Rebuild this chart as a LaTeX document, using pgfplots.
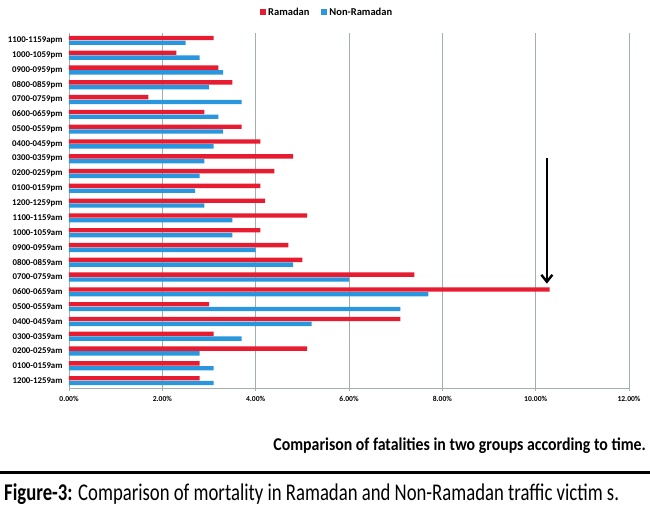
\documentclass[border=0pt]{standalone}
\usepackage{pgfplots}
\pgfplotsset{compat=1.18}
\usepackage{fontspec}
\setmainfont{Carlito}
\newfontfamily\condfont[FakeStretch=0.78]{Carlito}
\newfontfamily\condbold[FakeStretch=0.88]{Carlito}
\usetikzlibrary{arrows.meta}
\definecolor{ramred}{RGB}{232,28,48}
\definecolor{nonblue}{RGB}{42,150,222}
\definecolor{gridc}{RGB}{160,176,170}
\pgfplotstableread{
idx ram non
0 2.8 3.1
1 2.8 3.1
2 5.1 2.8
3 3.1 3.7
4 7.1 5.2
5 3.0 7.1
6 10.3 7.7
7 7.4 6.0
8 5.0 4.8
9 4.7 4.0
10 4.1 3.5
11 5.1 3.5
12 4.2 2.9
13 4.1 2.7
14 4.4 2.8
15 4.8 2.9
16 4.1 3.1
17 3.7 3.3
18 2.9 3.2
19 1.7 3.7
20 3.5 3.0
21 3.2 3.3
22 2.3 2.8
23 3.1 2.5
}\mydata
\begin{document}
\begin{tikzpicture}
\useasboundingbox (-69pt,-124pt) rectangle (581pt,388pt);
\begin{axis}[
  at={(0,0)}, anchor=south west,
  scale only axis, width=560pt, height=355pt,
  xmin=0, xmax=12, ymin=-0.5, ymax=23.5,
  axis lines=left,
  axis line style={-, draw=gridc, line width=0.8pt},
  xtick={0,2,...,12},
  xmajorgrids, grid style={draw=gridc, line width=0.9pt},
  xticklabel={\pgfmathprintnumber[fixed,fixed zerofill,precision=2]{\tick}\%},
  /pgf/number format/assume math mode=true,
  xticklabel style={font=\bfseries\fontsize{7.6}{9}\selectfont, yshift=-2pt},
  ytick={0,...,23},
  yticklabels={1200-1259am,0100-0159am,0200-0259am,0300-0359am,0400-0459am,0500-0559am,0600-0659am,0700-0759am,0800-0859am,0900-0959am,1000-1059am,1100-1159am,1200-1259pm,0100-0159pm,0200-0259pm,0300-0359pm,0400-0459pm,0500-0559pm,0600-0659pm,0700-0759pm,0800-0859pm,0900-0959pm,1000-1059pm,1100-1159apm},
  yticklabel style={font=\bfseries\fontsize{8.8}{10}\selectfont},
  minor ytick={-0.5,0.5,...,23.5},
  ytick style={draw=none},
  minor tick style={draw=gridc, line width=0.8pt},
  xtick style={draw=gridc, line width=0.8pt},
  tick align=outside,
  major tick length=3pt, minor tick length=3pt,
  xbar, bar width=4.4pt,
  legend style={at={(0.461,1)}, anchor=south, yshift=12pt, draw=none,
    font=\bfseries\fontsize{10.5}{12}\selectfont, legend columns=2,
    /tikz/every even column/.append style={column sep=10pt}},
  legend image code/.code={\fill[#1] (0pt,-3pt) rectangle (6pt,3pt);},
]
\addplot[fill=ramred, draw=none, bar shift=2.4pt] table[x=ram, y=idx]{\mydata};
\addlegendentry{Ramadan}
\addplot[fill=nonblue, draw=none, bar shift=-2.4pt] table[x=non, y=idx]{\mydata};
\addlegendentry{Non-Ramadan}
\draw[line width=2.6pt, -{Straight Barb[length=7pt,width=11pt,line width=2.4pt]}] (axis cs:10.24,15.05) -- (axis cs:10.24,6.55);
\end{axis}
\node[anchor=east, inner sep=0pt] at (577pt,-58pt) {\condbold\bfseries\fontsize{18}{20}\selectfont Comparison of fatalities in two groups according to time.};
\draw[line width=3pt] (-69pt,-84pt) -- (581pt,-84pt);
\node[anchor=west, inner sep=0pt] at (-65pt,-106pt) {\condfont\fontsize{24}{26}\selectfont\textbf{Figure-3:} Comparison of mortality in Ramadan and Non-Ramadan traffic victim s.};
\end{tikzpicture}
\end{document}
